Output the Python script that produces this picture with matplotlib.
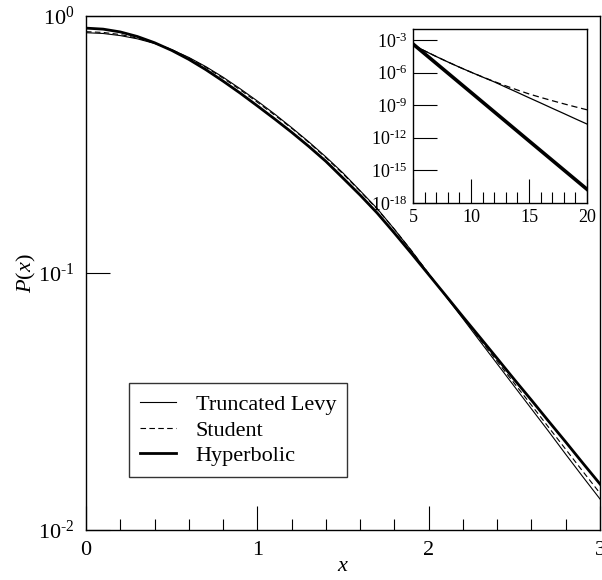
import numpy as np
import matplotlib
matplotlib.use("Agg")
import matplotlib.pyplot as plt
from matplotlib.ticker import FixedLocator, FuncFormatter, MultipleLocator, NullLocator

plt.rcParams['font.family'] = ['Liberation Serif', 'DejaVu Serif']
plt.rcParams['mathtext.fontset'] = 'custom'
plt.rcParams['mathtext.rm'] = 'Liberation Serif'
plt.rcParams['mathtext.it'] = 'Liberation Serif:italic'

# main panel, values
x_main = [0.0, 0.1, 0.2, 0.3, 0.4, 0.5, 0.6, 0.7, 0.8, 0.9, 1.0,
          1.1, 1.2, 1.3, 1.4, 1.5, 1.6, 1.7, 1.8, 1.9, 2.0,
          2.1, 2.2, 2.3, 2.4, 2.5, 2.6, 2.7, 2.8, 2.9, 3.0]
levy = [0.861, 0.855, 0.839, 0.815, 0.782, 0.740, 0.690, 0.635, 0.578, 0.521, 0.467,
        0.416, 0.368, 0.324, 0.283, 0.245, 0.209, 0.178, 0.148, 0.122, 0.0993,
        0.0811, 0.0664, 0.0542, 0.0443, 0.0362, 0.0296, 0.0242, 0.0197, 0.0161, 0.0132]
student = [0.869, 0.863, 0.847, 0.820, 0.785, 0.740, 0.687, 0.631, 0.573, 0.516, 0.462,
           0.412, 0.366, 0.322, 0.281, 0.243, 0.208, 0.177, 0.148, 0.122, 0.0995,
           0.0815, 0.0670, 0.0551, 0.0453, 0.0372, 0.0306, 0.0251, 0.0206, 0.0169, 0.0139]
hyperbolic = [0.897, 0.889, 0.867, 0.832, 0.787, 0.735, 0.678, 0.618, 0.558, 0.501, 0.447,
              0.398, 0.353, 0.311, 0.272, 0.234, 0.201, 0.171, 0.143, 0.119, 0.0986,
              0.0817, 0.0676, 0.0561, 0.0465, 0.0385, 0.0320, 0.0265, 0.0220, 0.0182, 0.0151]

# inset (tails), log10 P
x_tail = [5, 6, 7, 8, 9, 10, 11, 12, 13, 14, 15, 16, 17, 18, 19, 20]
levy_tail = [-3.47, -4.01, -4.53, -5.03, -5.51, -5.97, -6.42, -6.86,
             -7.35, -7.83, -8.32, -8.80, -9.29, -9.77, -10.26, -10.74]
student_tail = [-3.47, -4.01, -4.53, -5.03, -5.51, -5.97, -6.41, -6.83,
                -7.23, -7.61, -7.97, -8.29, -8.59, -8.88, -9.16, -9.43]
x_hyp_tail = [5, 10, 15, 20]
hyp_tail = [-3.38, -7.83, -12.29, -16.74]

labels = ['Truncated Levy', 'Student', 'Hyperbolic']


def pow10(v, pos):
    # plain hyphen in the exponent, like the original
    e = int(round(np.log10(v)))
    if e < 0:
        return r'$10^{\text{-}%d}$' % (-e)
    return r'$10^{%d}$' % e


fig = plt.figure(figsize=(6.02, 5.8), dpi=100)
ax = fig.add_axes([86 / 602, 1 - 530 / 580, 514 / 602, 514 / 580])

ax.plot(x_main, levy, color='black', lw=0.8, label=labels[0])
ax.plot(x_main, student, color='black', lw=0.8, linestyle=(0, (5, 3)), label=labels[1])
ax.plot(x_main, hyperbolic, color='black', lw=2.0, label=labels[2])

ax.set_yscale('log')
ax.set_xlim(0, 3)
ax.set_ylim(1e-2, 1e0)
ax.xaxis.set_major_locator(MultipleLocator(1))
ax.xaxis.set_minor_locator(MultipleLocator(0.2))
ax.yaxis.set_major_locator(FixedLocator([1e-2, 1e-1, 1e0]))
ax.yaxis.set_minor_locator(NullLocator())
ax.yaxis.set_major_formatter(FuncFormatter(pow10))
ax.tick_params(which='major', direction='in', length=17, width=0.8, labelsize=16,
               top=False, right=False, pad=8)
ax.tick_params(which='minor', direction='in', length=8, width=0.8, top=False, right=False)
for s in ax.spines.values():
    s.set_linewidth(1.0)

ax.set_xlabel(r'$x$', fontsize=16, labelpad=-2)
ax.set_ylabel(r'$P(x)$', fontsize=16, labelpad=0)

leg = ax.legend(loc='lower left', bbox_to_anchor=(0.084, 0.103), borderaxespad=0,
                fontsize=16, fancybox=False, frameon=True, edgecolor='black',
                handlelength=1.6, handletextpad=0.9, labelspacing=0.22,
                borderpad=0.5)
leg.get_frame().set_linewidth(1.0)

# inset
ins = fig.add_axes([413 / 602, 1 - 203 / 580, 174 / 602, 174 / 580])
ins.plot(x_tail, 10.0 ** np.array(levy_tail), color='black', lw=0.9)
ins.plot(x_tail, 10.0 ** np.array(student_tail), color='black', lw=0.9, linestyle=(0, (5, 3)))
ins.plot(x_hyp_tail, 10.0 ** np.array(hyp_tail), color='black', lw=2.6)
ins.set_yscale('log')
ins.set_xlim(5, 20)
ins.set_ylim(1e-18, 1e-2)
ins.xaxis.set_major_locator(MultipleLocator(5))
ins.xaxis.set_minor_locator(MultipleLocator(1))
ins.yaxis.set_major_locator(FixedLocator([1e-18, 1e-15, 1e-12, 1e-9, 1e-6, 1e-3]))
ins.yaxis.set_minor_locator(NullLocator())
ins.yaxis.set_major_formatter(FuncFormatter(pow10))
ins.tick_params(which='major', direction='in', length=17, width=0.8, labelsize=13,
                top=False, right=False, pad=4)
ins.tick_params(which='minor', direction='in', length=8, width=0.8, top=False, right=False)
for s in ins.spines.values():
    s.set_linewidth(1.0)

fig.savefig('out.png', dpi=100)
